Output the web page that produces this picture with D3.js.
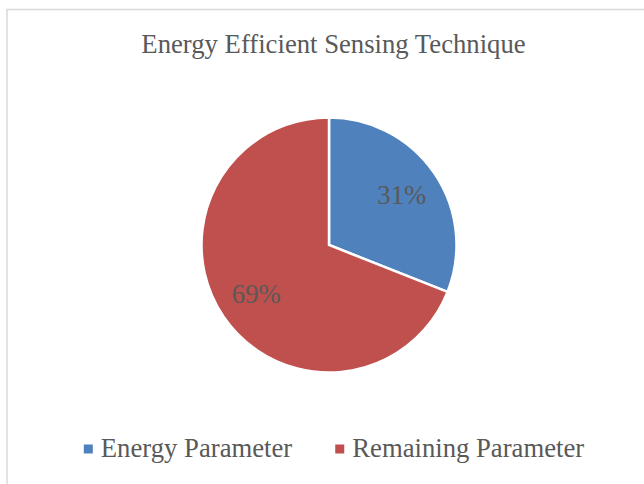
<!DOCTYPE html>
<html>
<head>
<meta charset="utf-8">
<script src="https://cdn.jsdelivr.net/npm/d3@7"></script>
<style>
  html, body { margin: 0; padding: 0; background: #ffffff; }
  svg { display: block; }
</style>
</head>
<body>
<div id="chart"></div>
<script>
const title = "Energy Efficient Sensing Technique";
const categories = ["Energy Parameter", "Remaining Parameter"];
const values = [31, 69];
const colors = ["#4F81BD", "#C0504D"];

const W = 644, H = 484;
const font = "'Liberation Serif', 'Times New Roman', serif";
const textColor = "#595959";

const svg = d3.select("#chart").append("svg")
  .attr("width", W).attr("height", H);

svg.append("rect").attr("width", W).attr("height", H).attr("fill", "#fff");

// chart area border (extends past the window on right/bottom)
svg.append("rect")
  .attr("x", 7).attr("y", 9.5)
  .attr("width", W + 20).attr("height", H + 20)
  .attr("fill", "none").attr("stroke", "#d9d9d9").attr("stroke-width", 1.5);

svg.append("text")
  .attr("x", 333.5).attr("y", 53)
  .attr("text-anchor", "middle")
  .attr("font-family", font).attr("font-size", 26.7)
  .attr("fill", textColor)
  .text(title);

const cx = 329, cy = 245, r = 127.5;
const data = categories.map((c, i) => ({ name: c, value: values[i], color: colors[i] }));
const pie = d3.pie().value(d => d.value).sort(null);
const arc = d3.arc().innerRadius(0).outerRadius(r);
const labelArc = d3.arc().innerRadius(r * 0.69).outerRadius(r * 0.69);
const total = d3.sum(values);

const g = svg.append("g").attr("transform", `translate(${cx},${cy})`);
const arcs = pie(data);
g.selectAll("path").data(arcs).join("path")
  .attr("d", arc)
  .attr("fill", d => d.data.color)
  .attr("stroke", "#fff").attr("stroke-width", 2.5)
  .attr("stroke-linejoin", "miter");

g.selectAll("text.lbl").data(arcs).join("text")
  .attr("class", "lbl")
  .attr("transform", d => { const [x, y] = labelArc.centroid(d); return `translate(${x},${y})`; })
  .attr("text-anchor", "middle")
  .attr("dy", "0.33em")
  .attr("font-family", font).attr("font-size", 26.7)
  .attr("fill", textColor)
  .text(d => Math.round(d.data.value / total * 100) + "%");

// legend
const legend = svg.append("g");
const items = legend.selectAll("g").data(data).join("g");
items.append("rect")
  .attr("width", 9).attr("height", 9)
  .attr("y", 444.5)
  .attr("fill", d => d.color);
items.append("text")
  .attr("x", 17).attr("y", 457)
  .attr("font-family", font).attr("font-size", 26.7)
  .attr("fill", textColor)
  .text(d => d.name);

const gap = 43;
let widths = [];
items.each(function() { widths.push(d3.select(this).select("text").node().getComputedTextLength() + 17); });
const totalW = d3.sum(widths) + gap * (widths.length - 1);
let x0 = 334 - totalW / 2;
items.attr("transform", (d, i) => {
  const x = x0 + d3.sum(widths.slice(0, i)) + gap * i;
  return `translate(${x},0)`;
});
</script>
</body>
</html>
